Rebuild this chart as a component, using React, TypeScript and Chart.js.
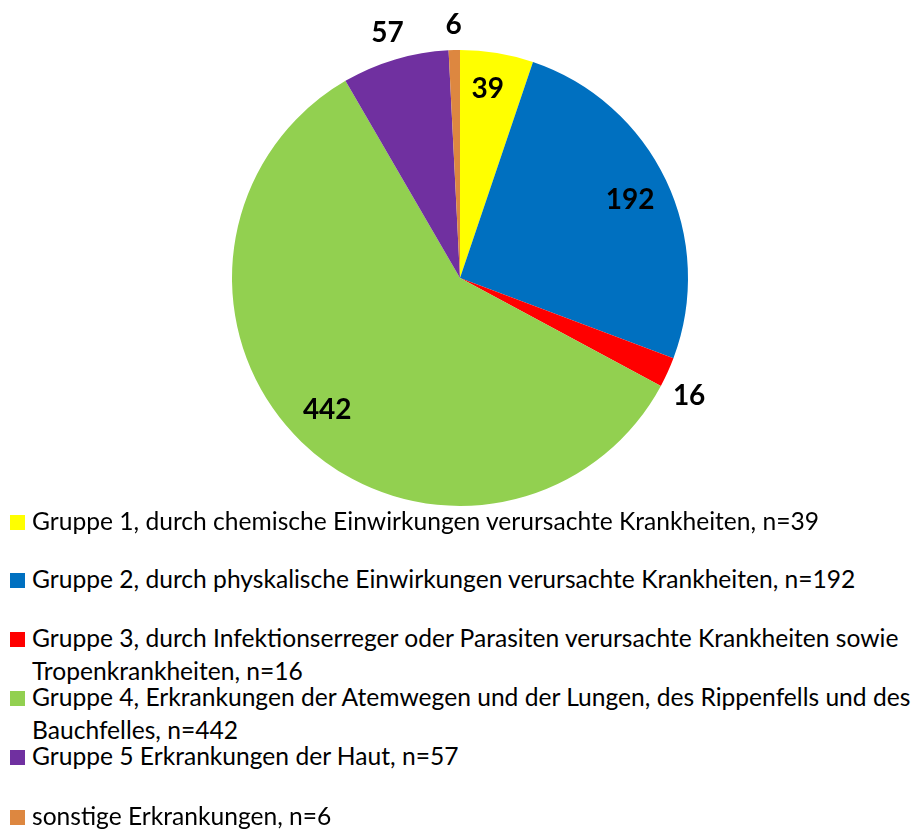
import React, { useEffect, useRef } from "react";
import { Chart, registerables } from "chart.js";
Chart.register(...registerables);

const categories = [
  "Gruppe 1, durch chemische Einwirkungen verursachte Krankheiten, n=39",
  "Gruppe 2, durch physkalische Einwirkungen verursachte Krankheiten, n=192",
  "Gruppe 3, durch Infektionserreger oder Parasiten verursachte Krankheiten sowie\nTropenkrankheiten, n=16",
  "Gruppe 4, Erkrankungen der Atemwegen und der Lungen, des Rippenfells und des\nBauchfelles, n=442",
  "Gruppe 5 Erkrankungen der Haut, n=57",
  "sonstige Erkrankungen, n=6",
];
const values = [39, 192, 16, 442, 57, 6];
const colors = ["#FFFF00", "#0070C0", "#FF0000", "#92D050", "#7030A0", "#DD8740"];

// label placement (radius factor and angular nudge in degrees)
const labelRadius = [0.84, 0.82, 1.13, 0.82, 1.12, 1.11];
const labelNudgeDeg = [-1, 0.8, 2.8, 1.2, 0, 0];

// layout
const LEGEND_BASELINES = [530, 588, 647, 706, 765, 825];
const WRAP_STEP = 33;
const FS = 24.6;
const FONT = "Lato, 'Open Sans', sans-serif";

const labelPlugin = {
  id: "sliceLabels",
  afterDatasetsDraw(chart: any) {
    const ctx = chart.ctx;
    const meta = chart.getDatasetMeta(0);
    ctx.save();
    ctx.font = `bold 28px ${FONT}`;
    ctx.fillStyle = "#000";
    ctx.textAlign = "center";
    ctx.textBaseline = "middle";
    meta.data.forEach((arc: any, i: number) => {
      const p = arc.getProps(["x", "y", "startAngle", "endAngle", "outerRadius"], true);
      const mid = (p.startAngle + p.endAngle) / 2 + (labelNudgeDeg[i] * Math.PI) / 180;
      const r = p.outerRadius * labelRadius[i];
      ctx.fillText(String(values[i]), p.x + Math.cos(mid) * r, p.y + Math.sin(mid) * r);
    });
    ctx.restore();
  },
};

export default function App() {
  const ref = useRef<HTMLCanvasElement>(null);
  useEffect(() => {
    document.body.style.margin = "0";
    const chart = new Chart(ref.current!, {
      type: "pie",
      data: {
        labels: categories,
        datasets: [
          {
            data: values,
            backgroundColor: colors,
            borderWidth: 0,
          },
        ],
      },
      options: {
        responsive: false,
        animation: false,
        devicePixelRatio: 1,
        layout: { padding: { top: 50, bottom: 54, left: 232, right: 233 } },
        plugins: { legend: { display: false }, tooltip: { enabled: false } },
      },
      plugins: [labelPlugin],
    });
    return () => chart.destroy();
  }, []);

  return (
    <div style={{ position: "fixed", left: 0, top: 0, width: 921, height: 829, background: "#fff" }}>
      <canvas ref={ref} width={921} height={560} style={{ position: "absolute", left: 0, top: 0 }} />
      {categories.map((c, i) => {
        const base = LEGEND_BASELINES[i];
        return (
          <React.Fragment key={i}>
            <div
              style={{
                position: "absolute",
                left: 10,
                top: base - 15,
                width: 15,
                height: 15,
                background: colors[i],
              }}
            />
            {c.split("\n").map((line, j) => (
              <div
                key={j}
                style={{
                  position: "absolute",
                  left: 32,
                  top: base + j * WRAP_STEP - 0.987 * FS,
                  fontFamily: FONT,
                  fontSize: FS,
                  lineHeight: `${1.2 * FS}px`,
                  whiteSpace: "pre",
                  color: "#000",
                }}
              >
                {line}
              </div>
            ))}
          </React.Fragment>
        );
      })}
    </div>
  );
}
